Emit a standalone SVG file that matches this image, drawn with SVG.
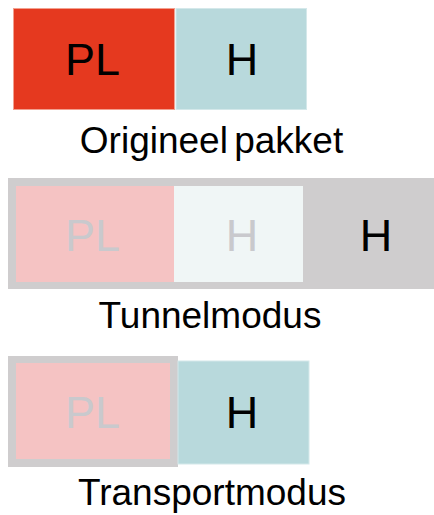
<svg xmlns="http://www.w3.org/2000/svg" width="434" height="515" viewBox="0 0 434 515">
<style>
text{font-family:"Liberation Sans",Arial,sans-serif;text-anchor:middle}
.big{font-size:45px}
.lbl{font-size:37px;fill:#000}
.dark{fill:#000}
.faint{fill:#C9C9CD}
.red{fill:#E5391F;stroke:#F2A08F;stroke-width:1}
.blue{fill:#B8D9DC;stroke:#D4E8EA;stroke-width:1}
.gray{fill:#CFCDCE}
.pink{fill:#F5C3C3}
.light{fill:#F0F6F6}
</style>
<rect width="434" height="515" fill="#fff"/>
<g id="origineel">
<g id="orig-pl"><rect class="red" x="13.5" y="8.5" width="161" height="101"/><text class="big dark" x="92.5" y="75">PL</text></g>
<g id="orig-h"><rect class="blue" x="176" y="8.5" width="130.5" height="101"/><text class="big dark" x="242" y="75">H</text></g>
<text class="lbl" x="211.5" y="153" word-spacing="-4">Origineel pakket</text>
</g>
<g id="tunnel">
<rect class="gray" x="8" y="178" width="426" height="111"/>
<g id="tun-pl"><rect class="pink" x="16" y="186" width="158" height="96"/><text class="big faint" x="92.5" y="251">PL</text></g>
<g id="tun-h1"><rect class="light" x="174" y="186" width="129" height="96"/><text class="big faint" x="242" y="251">H</text></g>
<g id="tun-h2"><text class="big dark" x="376" y="251">H</text></g>
<text class="lbl" x="210" y="328">Tunnelmodus</text>
</g>
<g id="transport">
<g id="tr-pl"><rect class="gray" x="8" y="356" width="170" height="111"/><rect class="pink" x="16" y="363" width="154" height="96"/><text class="big faint" x="92.5" y="428">PL</text></g>
<g id="tr-h"><rect class="blue" x="178" y="361" width="131" height="103"/><text class="big dark" x="242" y="428">H</text></g>
<text class="lbl" x="212" y="505">Transportmodus</text>
</g>
<g id="connectors"></g>
</svg>
